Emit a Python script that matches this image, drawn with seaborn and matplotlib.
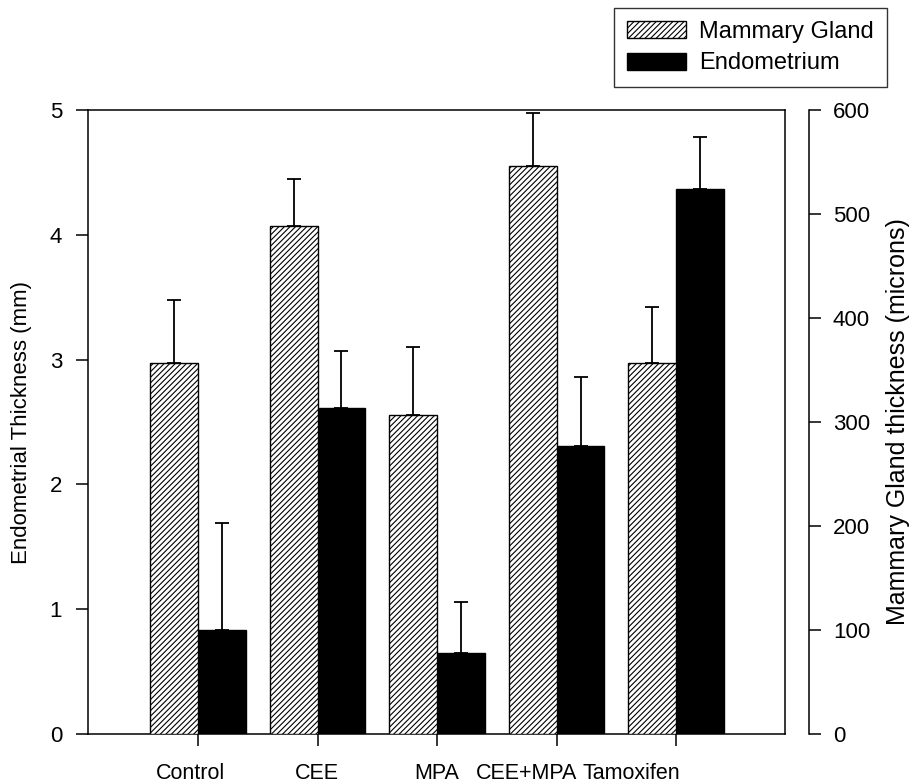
import matplotlib
matplotlib.use("Agg")
import matplotlib.pyplot as plt
import matplotlib.transforms as mtransforms
from matplotlib.patches import Patch
import numpy as np
import pandas as pd
import seaborn as sns

# ---- data ----
categories = ["Control", "CEE", "MPA", "CEE+MPA", "Tamoxifen"]
series = ["Mammary Gland", "Endometrium"]
mammary = [357, 488, 307, 546, 357]          # microns (right axis)
mammary_err = [60, 46, 65, 51, 54]
endometrium = [0.83, 2.61, 0.65, 2.31, 4.37]  # mm (left axis)
endometrium_err = [0.86, 0.46, 0.41, 0.55, 0.41]
left_ticks = [0, 1, 2, 3, 4, 5]
right_ticks = [0, 100, 200, 300, 400, 500, 600]
label_shift_px = [-7, -1, 0, -30, -45]

plt.rcParams['font.family'] = ['Liberation Sans', 'DejaVu Sans']
plt.rcParams['hatch.linewidth'] = 0.8
plt.rcParams['hatch.color'] = 'black'

W, H = 915, 784
fig = plt.figure(figsize=(W / 100, H / 100), dpi=100)
ax = fig.add_axes([88 / W, 1 - 734 / H, 697 / W, 624 / H])
ax2 = ax.twinx()

df_m = pd.DataFrame({"group": categories, "series": series[0], "value": mammary})
df_e = pd.DataFrame({"group": categories, "series": series[1], "value": endometrium})
palette = {series[0]: "white", series[1]: "black"}

sns.barplot(data=df_e, x="group", y="value", hue="series", hue_order=series,
            order=categories, palette=palette, edgecolor="black", linewidth=1.0,
            errorbar=None, legend=False, width=0.8, saturation=1, dodge=True, ax=ax)
sns.barplot(data=df_m, x="group", y="value", hue="series", hue_order=series,
            order=categories, palette=palette, edgecolor="black", linewidth=1.0,
            errorbar=None, legend=False, width=0.8, saturation=1, dodge=True, ax=ax2)


def drawn_bars(a):
    bars = [p for c in a.containers for p in c if p.get_height() > 0]
    return sorted(bars, key=lambda b: b.get_x())


HATCH = '//////'
for p in drawn_bars(ax2):
    p.set_hatch(HATCH)

# error bars (upper only), positioned on the drawn bars
xe = [b.get_x() + b.get_width() / 2 for b in drawn_bars(ax)]
ax.errorbar(xe, endometrium, yerr=[np.zeros(len(endometrium)), endometrium_err],
            fmt='none', ecolor='black', elinewidth=1.3, capsize=5, capthick=1.3, zorder=3)
xm = [b.get_x() + b.get_width() / 2 for b in drawn_bars(ax2)]
ax2.errorbar(xm, mammary, yerr=[np.zeros(len(mammary)), mammary_err],
             fmt='none', ecolor='black', elinewidth=1.3, capsize=5, capthick=1.3, zorder=3)

ax.set_xlim(-0.92, 4.91)
ax.set_ylim(0, 5)
ax2.set_ylim(0, 600)
ax.set_yticks(left_ticks)
ax2.set_yticks(right_ticks)
ax.set_xticks(range(len(categories)))
ax.set_xticklabels(categories)
ax.set_xlabel("")

for s in ax.spines.values():
    s.set_linewidth(1.1)
    s.set_color('black')
for name in ['top', 'bottom', 'left']:
    ax2.spines[name].set_visible(False)
ax2.spines['right'].set_position(('outward', 17.3))
ax2.spines['right'].set_linewidth(1.1)

ax.tick_params(axis='x', direction='out', length=8.6, width=1.1, pad=12,
               labelsize=15.5, top=False)
ax.tick_params(axis='y', direction='out', length=8.6, width=1.1, pad=10,
               labelsize=16, right=False)
ax2.tick_params(axis='y', direction='out', length=8.6, width=1.1, pad=8.5,
                labelsize=16)

for lab, dx in zip(ax.get_xticklabels(), label_shift_px):
    lab.set_transform(lab.get_transform() +
                      mtransforms.ScaledTranslation(dx / 100, 0, fig.dpi_scale_trans))

ax.set_ylabel("Endometrial Thickness (mm)", fontsize=16)
ax.yaxis.set_label_coords(-0.08, 0.5)
ax2.set_ylabel("Mammary Gland thickness (microns)", fontsize=18)
ax2.yaxis.set_label_coords(1.145, 0.5)

handles = [Patch(facecolor='white', edgecolor='black', hatch=HATCH, label=series[0]),
           Patch(facecolor='black', edgecolor='black', label=series[1])]
leg = fig.legend(handles=handles, loc='upper right',
                 bbox_to_anchor=(887 / W, 1 - 8 / H), bbox_transform=fig.transFigure,
                 fontsize=17, frameon=True, fancybox=False, shadow=False,
                 borderpad=0.55, handlelength=2.5, handleheight=0.72,
                 handletextpad=0.55, labelspacing=0.4, borderaxespad=0)
leg.get_frame().set_edgecolor('black')
leg.get_frame().set_linewidth(1.0)

fig.savefig("out.png", dpi=100)
